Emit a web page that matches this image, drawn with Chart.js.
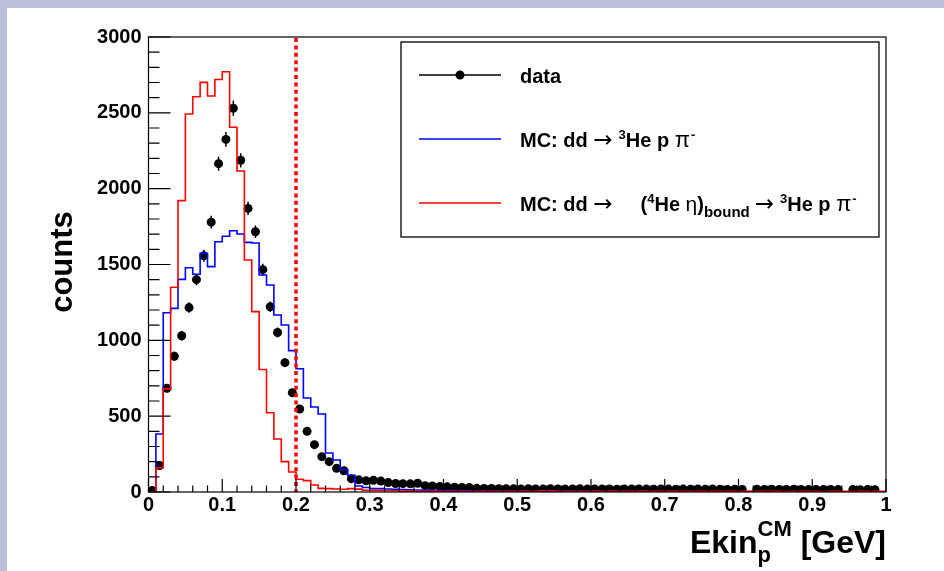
<!DOCTYPE html>
<html>
<head>
<meta charset="utf-8">
<script src="https://cdn.jsdelivr.net/npm/chart.js@4.4.0/dist/chart.umd.min.js"></script>
<style>
  html, body { margin: 0; padding: 0; background: #ffffff; }
  canvas { display: block; }
</style>
</head>
<body>
<canvas id="myChart" width="944" height="571"></canvas>
<script>
// histogram binning (GeV)
const xMin = 0;
const xMax = 1;
const binWidth = 0.01;
const cutEkin = 0.2;

// measured counts per bin, null = empty bin (no marker)
const dataCounts = [
    10, 175, 684, 895, 1030, 1216, 1400, 1557, 1779, 2165,
    2325, 2530, 2187, 1870, 1716, 1466, 1221, 1052, 853, 655,
    547, 400, 312, 233, 200, 156, 140, 88, 80, 74,
    77, 72, 62, 56, 55, 54, 58, 42, 40, 36,
    34, 31, 30, 29, 24, 23, 23, 22, 22, 21,
    20, 21, 20, 19, 21, 20, 19, 20, 21, 19,
    20, 19, 20, 18, 20, 19, 20, 19, 18, 20,
    19, 18, 19, 18, 19, 18, 19, 18, 17, 18,
    17, null, 18, 17, 18, 17, 16, 18, 17, 16,
    17, 16, 17, 16, null, 16, 15, 16, 15, null
];

// MC: dd -> 3He p pi- (phase space)
const mcPhaseSpace = [
    0, 382, 1182, 1211, 1402, 1479, 1436, 1574, 1486, 1650,
    1686, 1723, 1701, 1646, 1642, 1431, 1365, 1167, 1101, 932,
    813, 620, 560, 514, 257, 211, 147, 110, 40, 30,
    22, 22, 20, 18, 16, 14, 13, 12, 11, 10,
    9, 9, 8, 8, 7, 7, 6, 6, 6, 5,
    5, 5, 5, 4, 5, 4, 4, 5, 4, 4,
    4, 4, 3, 4, 3, 3, 4, 3, 3, 3,
    3, 3, 2, 3, 3, 2, 3, 2, 2, 2,
    2, 3, 2, 2, 2, 2, 2, 1, 2, 2,
    2, 1, 2, 1, 1, 2, 1, 1, 1, 1
];

// MC: dd -> (4He eta)bound -> 3He p pi-
const mcBound = [
    0, 160, 680, 1350, 1921, 2492, 2606, 2701, 2611, 2720,
    2771, 2405, 2116, 1530, 1189, 808, 523, 349, 200, 132,
    84, 75, 46, 24, 22, 20, 18, 22, 19, 12,
    11, 11, 10, 8, 6, 6, 5, 5, 6, 5,
    5, 4, 5, 5, 4, 5, 5, 4, 5, 4,
    5, 4, 5, 8, 8, 4, 5, 4, 5, 4,
    4, 5, 4, 4, 5, 4, 4, 5, 4, 4,
    4, 4, 5, 4, 4, 4, 5, 4, 4, 4,
    4, 4, 4, 4, 4, 4, 3, 4, 4, 4,
    4, 3, 4, 4, 4, 3, 4, 4, 4, 4
];

const seriesNames = ['data', 'MC: dd \u2192 3He p \u03c0-', 'MC: dd \u2192 (4He \u03b7)bound \u2192 3He p \u03c0-'];
const yMax = 3000;

const FONT = '"Liberation Sans", Arial, sans-serif';
const SYMFONT = '"DejaVu Sans", sans-serif';

function histPoints(counts) {
    const pts = counts.map((v, i) => ({ x: xMin + i * binWidth, y: v }));
    pts.push({ x: xMax, y: counts[counts.length - 1] });
    return pts;
}

function markerPoints(counts) {
    const pts = [];
    counts.forEach((v, i) => {
        if (v !== null) pts.push({ x: xMin + (i + 0.5) * binWidth, y: v });
    });
    return pts;
}

function drawRich(ctx, x, y, parts) {
    parts.forEach(p => {
        ctx.font = (p.w || 'bold') + ' ' + p.s + 'px ' + (p.f || FONT);
        x += p.gap || 0;
        ctx.fillText(p.t, x, y + (p.dy || 0));
        x += ctx.measureText(p.t).width;
    });
    return x;
}

const rootStyle = {
    id: 'rootStyle',
    beforeDraw(chart) {
        const ctx = chart.ctx;
        ctx.save();
        ctx.fillStyle = '#bbbfdb';
        ctx.fillRect(0, 0, chart.width, chart.height);
        ctx.fillStyle = '#ffffff';
        ctx.fillRect(7, 8, chart.width - 7, chart.height - 8);
        ctx.restore();
    },
    beforeDatasetDraw(chart, args) {
        if (args.index !== 0) return;
        const ctx = chart.ctx;
        const y = chart.scales.y;
        ctx.save();
        ctx.strokeStyle = '#000';
        ctx.lineWidth = 1.5;
        args.meta.data.forEach(pt => {
            const v = y.getValueForPixel(pt.y);
            const e = Math.sqrt(Math.max(v, 0));
            ctx.beginPath();
            ctx.moveTo(pt.x, y.getPixelForValue(v + e));
            ctx.lineTo(pt.x, Math.min(y.getPixelForValue(v - e), y.bottom));
            ctx.stroke();
        });
        ctx.restore();
    },
    afterDraw(chart) {
        const ctx = chart.ctx;
        const a = chart.chartArea;
        const xs = chart.scales.x;
        const ys = chart.scales.y;
        ctx.save();

        // cut line
        const cx = xs.getPixelForValue(cutEkin);
        ctx.strokeStyle = '#ff0000';
        ctx.lineWidth = 3.5;
        ctx.setLineDash([4, 3.4]);
        ctx.beginPath();
        ctx.moveTo(cx, a.top + 1);
        ctx.lineTo(cx, a.bottom);
        ctx.stroke();
        ctx.setLineDash([]);

        // frame
        ctx.strokeStyle = '#000';
        ctx.lineWidth = 1.2;
        ctx.strokeRect(a.left, a.top, a.right - a.left, a.bottom - a.top);

        // ticks inside the frame
        ctx.beginPath();
        for (let k = 0; k <= 30; k++) {
            const py = ys.getPixelForValue(k * 100);
            const len = k % 5 === 0 ? 22 : 11;
            ctx.moveTo(a.left, py);
            ctx.lineTo(a.left + len, py);
        }
        for (let k = 0; k <= 50; k++) {
            const px = xs.getPixelForValue(k * 0.02);
            const len = k % 5 === 0 ? 13 : 6.5;
            ctx.moveTo(px, a.bottom);
            ctx.lineTo(px, a.bottom - len);
        }
        ctx.stroke();

        // legend
        const lx = 401, ly = 42, lw = 478, lh = 195;
        ctx.fillStyle = '#fff';
        ctx.fillRect(lx, ly, lw, lh);
        ctx.lineWidth = 1.3;
        ctx.strokeRect(lx, ly, lw, lh);
        const rows = [75, 139, 203];
        const colors = ['#000000', '#0000ff', '#ff0000'];
        rows.forEach((ry, i) => {
            ctx.strokeStyle = colors[i];
            ctx.lineWidth = 1.6;
            ctx.beginPath();
            ctx.moveTo(419, ry);
            ctx.lineTo(501, ry);
            ctx.stroke();
        });
        ctx.fillStyle = '#000';
        ctx.beginPath();
        ctx.arc(460, rows[0], 4.5, 0, Math.PI * 2);
        ctx.fill();

        ctx.textAlign = 'left';
        ctx.textBaseline = 'alphabetic';
        drawRich(ctx, 520, rows[0] + 8, [{ t: seriesNames[0], s: 20 }]);
        drawRich(ctx, 520, rows[1] + 8, [
            { t: 'MC: dd ', s: 20 },
            { t: '\u2192', s: 23, w: 'normal', f: SYMFONT, dy: 0 },
            { t: '3', s: 13, dy: -8, gap: 6 },
            { t: 'He p ', s: 20 },
            { t: '\u03c0', s: 22, w: 'normal' },
            { t: '-', s: 13, dy: -8, gap: 1 }
        ]);
        drawRich(ctx, 520, rows[2] + 8, [
            { t: 'MC: dd ', s: 20 },
            { t: '\u2192', s: 23, w: 'normal', f: SYMFONT, dy: 0 },
            { t: '(', s: 20, gap: 28 },
            { t: '4', s: 13, dy: -8 },
            { t: 'He ', s: 20 },
            { t: '\u03b7', s: 21, w: 'normal' },
            { t: ')', s: 20 },
            { t: 'bound', s: 15, dy: 6 },
            { t: '\u2192', s: 23, w: 'normal', f: SYMFONT, dy: 0, gap: 5 },
            { t: '3', s: 13, dy: -8, gap: 6 },
            { t: 'He p ', s: 20 },
            { t: '\u03c0', s: 22, w: 'normal' },
            { t: '-', s: 13, dy: -8, gap: 1 }
        ]);

        // y title
        ctx.save();
        ctx.translate(72, 262);
        ctx.rotate(-Math.PI / 2);
        ctx.textAlign = 'center';
        ctx.font = 'bold 31px ' + FONT;
        ctx.fillText('counts', 0, 0);
        ctx.restore();

        // x title: Ekin_p^CM [GeV], right-aligned to the frame
        const base = 553;
        ctx.font = 'bold 32px ' + FONT;
        const wMain = ctx.measureText('Ekin').width;
        const wTail = ctx.measureText(' [GeV]').width;
        ctx.font = 'bold 22px ' + FONT;
        const wSup = ctx.measureText('CM').width;
        let tx = a.right - (wMain + wSup + wTail);
        ctx.font = 'bold 32px ' + FONT;
        ctx.fillText('Ekin', tx, base);
        tx += wMain;
        ctx.font = 'bold 22px ' + FONT;
        ctx.fillText('p', tx, base + 9);
        ctx.fillText('CM', tx, base - 17);
        tx += wSup;
        ctx.font = 'bold 32px ' + FONT;
        ctx.fillText(' [GeV]', tx, base);

        ctx.restore();
    }
};

function init() {
    Chart.defaults.font.family = FONT;
    Chart.defaults.color = '#000';

    const ctx = document.getElementById('myChart');

    const datasets = [
        {
            label: seriesNames[0],
            data: markerPoints(dataCounts),
            showLine: false,
            pointRadius: 4.5,
            pointBackgroundColor: '#000',
            pointBorderWidth: 0,
            order: 3
        },
        {
            label: seriesNames[1],
            data: histPoints(mcPhaseSpace),
            borderColor: '#0000ff',
            borderWidth: 1.6,
            stepped: 'before',
            pointRadius: 0,
            fill: false,
            order: 2
        },
        {
            label: seriesNames[2],
            data: histPoints(mcBound),
            borderColor: '#ff0000',
            borderWidth: 1.6,
            stepped: 'before',
            pointRadius: 0,
            fill: false,
            order: 1
        }
    ];

    new Chart(ctx, {
        type: 'line',
        data: { datasets: datasets },
        options: {
            responsive: false,
            animation: false,
            devicePixelRatio: 1,
            layout: {
                padding: { top: 37, right: 58, bottom: 0, left: 0 }
            },
            plugins: {
                legend: { display: false },
                title: { display: false },
                tooltip: { enabled: false }
            },
            scales: {
                x: {
                    type: 'linear',
                    min: xMin,
                    max: xMax,
                    grid: { display: false, drawTicks: false },
                    border: { display: false },
                    ticks: {
                        stepSize: 0.1,
                        autoSkip: false,
                        maxRotation: 0,
                        padding: 1,
                        font: { size: 20, weight: 'bold' },
                        callback: v => String(Math.round(v * 10) / 10)
                    },
                    afterFit: scale => { scale.height = 79; }
                },
                y: {
                    type: 'linear',
                    min: 0,
                    max: yMax,
                    grid: { display: false, drawTicks: false },
                    border: { display: false },
                    ticks: {
                        stepSize: 500,
                        padding: 7,
                        font: { size: 20, weight: 'bold' },
                        callback: v => String(v)
                    },
                    afterFit: scale => { scale.width = 148.5; }
                }
            }
        },
        plugins: [rootStyle]
    });
}

window.onload = () => {
    init();
};
</script>
</body>
</html>
